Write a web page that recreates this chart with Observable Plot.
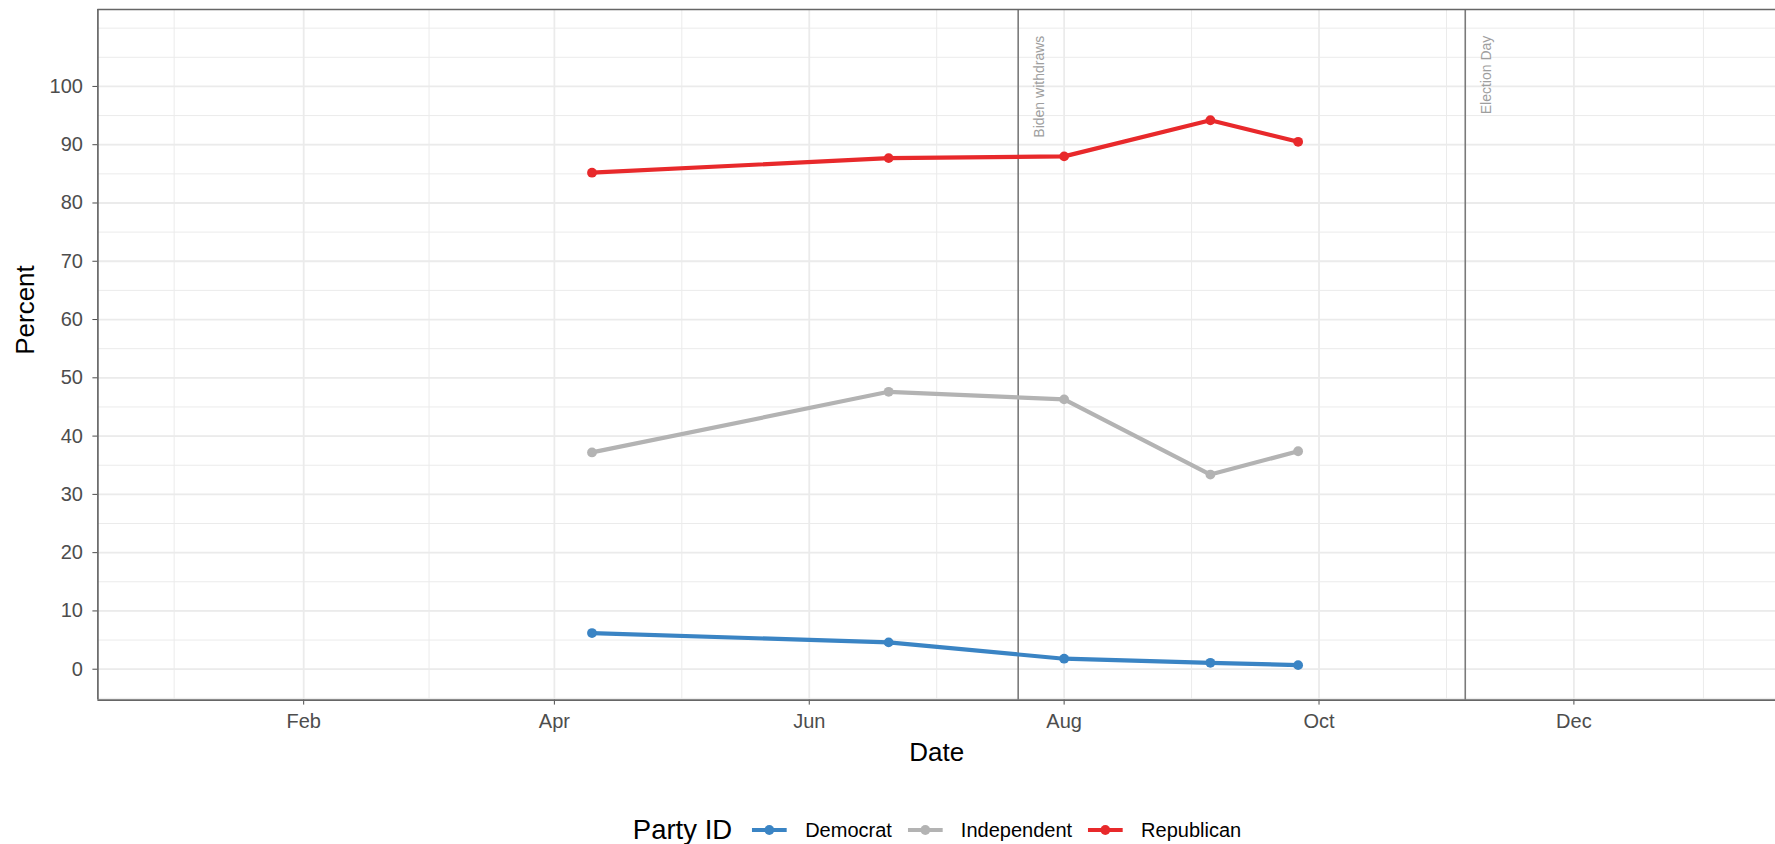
<!DOCTYPE html>
<html>
<head>
<meta charset="utf-8">
<script src="https://cdn.jsdelivr.net/npm/d3@7"></script>
<script src="https://cdn.jsdelivr.net/npm/@observablehq/plot@0.6"></script>
<style>
  body { margin: 0; background: #fff; font-family: "Liberation Sans", Arial, Helvetica, sans-serif; }
  #legend { position: relative; width: 1775px; height: 30px; margin-top: 10px; }
  #legend .inner { position: absolute; left: 937px; top: 0; transform: translateX(-50%);
    display: flex; align-items: center; height: 30px; white-space: nowrap; color: #000; }
  #legend .title { font-size: 27.5px; margin-right: 20px; }
  #legend .key { width: 35px; height: 20px; margin-right: 18px; }
  #legend .lab { font-size: 20px; margin-right: 16px; }
  #legend .lab:last-child { margin-right: 0; }
</style>
</head>
<body>
<div id="chart"></div>
<div id="legend"></div>
<script>
// ---- data ----
const pollDates = ["2024-04-10", "2024-06-20", "2024-08-01", "2024-09-05", "2024-09-26"];
const parties = ["Democrat", "Independent", "Republican"];
const democrat = [6.2, 4.6, 1.8, 1.1, 0.7];
const independent = [37.2, 47.6, 46.3, 33.4, 37.4];
const republican = [85.2, 87.7, 88.0, 94.2, 90.5];
const partyColors = ["#3A84C4", "#B3B3B3", "#E8292B"];
const eventDates = ["2024-07-21", "2024-11-05"];
const eventLabels = ["Biden withdraws", "Election Day"];
const eventLabelY = 108.7;
const monthTicks = ["2024-02-01", "2024-04-01", "2024-06-01", "2024-08-01", "2024-10-01", "2024-12-01"];
const yTicks = [0, 10, 20, 30, 40, 50, 60, 70, 80, 90, 100];
const dateLimits = ["2024-01-01", "2024-12-31"];
const yLimits = [-5.3, 113.2];

// ---- derived tables ----
const series = [democrat, independent, republican];
const rows = [];
parties.forEach((p, i) => pollDates.forEach((d, j) => rows.push({party: p, date: new Date(d), value: series[i][j]})));
const events = eventDates.map((d, i) => ({date: new Date(d), label: eventLabels[i]}));
const majorX = monthTicks.map(d => new Date(d));
const extX = [d3.utcMonth.offset(majorX[0], -2), ...majorX, d3.utcMonth.offset(majorX[majorX.length - 1], 2)];
const minorX = d3.pairs(extX).map(([a, b]) => new Date((+a + +b) / 2));
const minorY = d3.range(-5, 111, 5);
const x0 = new Date(dateLimits[0]), x1 = new Date(dateLimits[1]);
const pad = (x1 - x0) * 0.05;
const xDomain = [new Date(+x0 - pad), new Date(+x1 + pad)];

const grid = "#EBEBEB";
const lineW = 4.2, dotR = 4.9;
const chart = Plot.plot({
  width: 1775,
  height: 805,
  marginLeft: 97.4,
  marginRight: 0,
  marginTop: 9,
  marginBottom: 105.4,
  style: {fontFamily: '"Liberation Sans", Arial, Helvetica, sans-serif', background: "#fff", overflow: "visible"},
  x: {type: "utc", domain: xDomain},
  y: {domain: yLimits},
  color: {domain: parties, range: partyColors},
  marks: [
    Plot.ruleX(minorX, {stroke: grid, strokeWidth: 1}),
    Plot.ruleY(minorY, {stroke: grid, strokeWidth: 1}),
    Plot.ruleX(majorX, {stroke: grid, strokeWidth: 1.8}),
    Plot.ruleY(yTicks, {stroke: grid, strokeWidth: 1.8}),
    Plot.ruleX(events, {x: "date", stroke: "#7A7A7A", strokeWidth: 1.6}),
    Plot.text(events, {x: "date", y: () => eventLabelY, text: "label", rotate: -90, textAnchor: "end",
      lineAnchor: "middle", dx: 21, fontSize: 14, fill: "#9E9E9E"}),
    Plot.line(rows, {x: "date", y: "value", z: "party", stroke: "party", strokeWidth: lineW}),
    Plot.dot(rows, {x: "date", y: "value", fill: "party", r: dotR}),
    Plot.axisX({ticks: majorX, tickFormat: d3.utcFormat("%b"), tickSize: 5, tickPadding: 9,
      label: null, fontSize: 20, color: "#4D4D4D"}),
    Plot.axisY({ticks: yTicks, tickSize: 5, tickPadding: 10, label: null, fontSize: 20, color: "#4D4D4D"}),
    Plot.ruleX([xDomain[0]], {stroke: "#666", strokeWidth: 1.7}),
    Plot.ruleY(yLimits, {stroke: "#666", strokeWidth: 1.7}),
    Plot.text(["Date"], {text: d => d, frameAnchor: "bottom", dy: 53, fontSize: 26, fill: "#000", lineAnchor: "middle"}),
    Plot.text(["Percent"], {text: d => d, frameAnchor: "left", dx: -72, rotate: -90, fontSize: 26, fill: "#000", lineAnchor: "middle"})
  ]
});
document.getElementById("chart").appendChild(chart);

// ---- legend ----
const leg = document.getElementById("legend");
const inner = document.createElement("div");
inner.className = "inner";
const t = document.createElement("span");
t.className = "title";
t.textContent = "Party ID";
inner.appendChild(t);
parties.forEach((p, i) => {
  const ns = "http://www.w3.org/2000/svg";
  const svg = document.createElementNS(ns, "svg");
  svg.setAttribute("class", "key");
  svg.setAttribute("width", 35); svg.setAttribute("height", 20);
  const ln = document.createElementNS(ns, "line");
  ln.setAttribute("x1", 0); ln.setAttribute("x2", 35); ln.setAttribute("y1", 10); ln.setAttribute("y2", 10);
  ln.setAttribute("stroke", partyColors[i]); ln.setAttribute("stroke-width", lineW);
  const c = document.createElementNS(ns, "circle");
  c.setAttribute("cx", 17.5); c.setAttribute("cy", 10); c.setAttribute("r", dotR);
  c.setAttribute("fill", partyColors[i]);
  svg.appendChild(ln); svg.appendChild(c);
  inner.appendChild(svg);
  const l = document.createElement("span");
  l.className = "lab";
  l.textContent = p;
  inner.appendChild(l);
});
leg.appendChild(inner);
</script>
</body>
</html>
